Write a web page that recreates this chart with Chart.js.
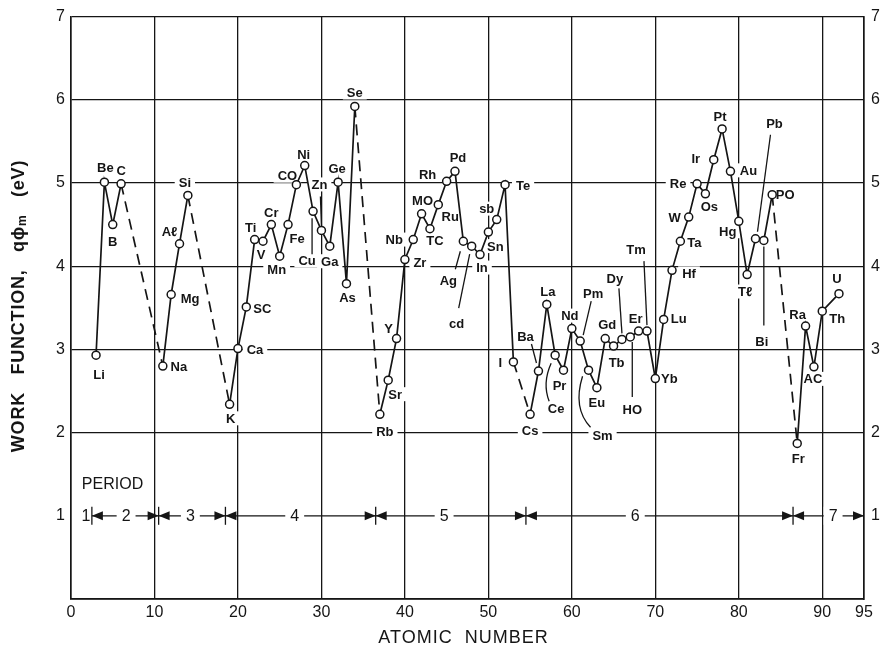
<!DOCTYPE html>
<html>
<head>
<meta charset="utf-8">
<script src="https://cdn.jsdelivr.net/npm/chart.js@4.4.0/dist/chart.umd.min.js"></script>
<style>
  html, body { margin: 0; padding: 0; background: #fff; }
  #wrap { width: 883px; height: 654px; }
</style>
</head>
<body>
<div id="wrap"><canvas id="wf-chart"></canvas></div>
<script>
// element labels as lettered on the figure
const symbols = ['Li','Be','B','C','Na','Mg','Aℓ','Si','K','Ca','SC','Ti','V','Cr','Mn','Fe','CO','Ni','Cu','Zn','Ga','Ge','As','Se',
  'Rb','Sr','Y','Zr','Nb','MO','TC','Ru','Rh','Pd','Ag','cd','In','Sn','sb','Te','I',
  'Cs','Ba','La','Ce','Pr','Nd','Pm','Sm','Eu','Gd','Tb','Dy','HO','Er','Tm','Yb','Lu','Hf','Ta','W','Re','Os','Ir','Pt','Au','Hg','Tℓ','Pb','Bi','PO',
  'Fr','Ra','AC','Th','U'];
const atomicNumbers = [3,4,5,6,11,12,13,14,19,20,21,22,23,24,25,26,27,28,29,30,31,32,33,34,
  37,38,39,40,41,42,43,44,45,46,47,48,49,50,51,52,53,
  55,56,57,58,59,60,61,62,63,64,65,66,67,68,69,70,71,72,73,74,75,76,77,78,79,80,81,82,83,84,
  87,88,89,90,92];
const workFunctions = [2.93,5.01,4.50,4.99,2.80,3.66,4.27,4.85,2.34,3.01,3.51,4.32,4.30,4.50,4.12,4.50,4.98,5.21,4.66,4.43,4.24,5.01,3.79,5.92,
  2.22,2.63,3.13,4.08,4.32,4.63,4.45,4.74,5.02,5.14,4.30,4.24,4.14,4.41,4.56,4.98,2.85,
  2.22,2.74,3.54,2.93,2.75,3.25,3.10,2.75,2.54,3.13,3.04,3.12,3.15,3.22,3.22,2.65,3.36,3.95,4.30,4.59,4.99,4.87,5.28,5.65,5.14,4.54,3.90,4.33,4.31,4.86,
  1.87,3.28,2.79,3.46,3.67];
// dashed connection after these (noble gases / halogens skipped)
const dashedAfter = ['C','Si','Se','I','PO'];

const xTicks = [0,10,20,30,40,50,60,70,80,90,95];
const yTicks = [0,1,2,3,4,5,6,7];

const periodNames = ['1','2','3','4','5','6','7'];
const periodBounds = [2.5,10.5,18.5,36.5,54.5,86.5,95];
const periodLabelAt = [1.8,6.6,14.3,26.8,44.7,67.6,91.3];

// label placement, pixel offset from the point
const labelPlace = {
  Li:[3,19], Be:[1,-15], B:[0,17], C:[0,-13], Na:[16,0], Mg:[19,4], 'Aℓ':[-10,-12], Si:[-3,-13],
  K:[1,14], Ca:[17,1], SC:[16,1], Ti:[-4,-12], V:[-2,13], Cr:[0,-12], Mn:[-3,13], Fe:[9,14],
  CO:[-9,-9], Ni:[-1,-11], Cu:[-6,49], Zn:[-2,-46], Ga:[0,15], Ge:[-1,-14], As:[1,14], Se:[0,-14],
  Rb:[5,17], Sr:[7,14], Y:[-8,-10], Zr:[15,3], Nb:[-19,0], MO:[1,-13], TC:[5,12], Ru:[12,12],
  Rh:[-19,-7], Pd:[3,-14], Ag:[-15,39], cd:[-15,77], In:[2,13], Sn:[7,14], sb:[-10,-11], Te:[18,1], I:[-13,1],
  Cs:[0,16], Ba:[-13,-35], La:[1,-13], Ce:[1,53], Pr:[-4,15], Nd:[-2,-13], Pm:[13,-48], Sm:[14,65],
  Eu:[0,15], Gd:[2,-14], Tb:[3,16], Dy:[-7,-61], HO:[2,73], Er:[-3,-13], Tm:[-11,-82], Yb:[14,0],
  Lu:[15,-1], Hf:[17,3], Ta:[14,1], W:[-14,0], Re:[-19,0], Os:[4,13], Ir:[-18,-1], Pt:[-2,-12],
  Au:[18,-1], Hg:[-11,10], 'Tℓ':[-2,17], Pb:[19,-115], Bi:[-2,101], PO:[13,0],
  Fr:[1,15], Ra:[-8,-12], AC:[-1,12], Th:[15,7], U:[-2,-15]
};
const leaders = {
  Cu:[[-1,7],[-1,43]], Zn:[[-1,-34],[0,-5]], Ag:[[-8,28],[-3,10]], cd:[[-13,62],[-2,8]],
  Ba:[[-7,-27],[-2,-8]], Pm:[[11,-40],[3,-6]], Dy:[[-3,-51],[0,-6]], HO:[[2,5],[2,60]],
  Tm:[[-3,-70],[0,-6]], Pb:[[15,-104],[2,-7]], Bi:[[0,85],[0,6]]
};
const curvedLeaders = {
  Ce:[[-4,8],[-13,28],[-6,46]],
  Sm:[[-6,6],[-16,38],[2,57]]
};

const INK = '#151515';
const FONT = '"Liberation Sans", Arial, sans-serif';

const annotate = {
  id: 'annotate',
  beforeDatasetsDraw(chart) {
    const { ctx, scales: { x, y } } = chart;
    ctx.save();
    ctx.font = 'bold 13px ' + FONT;
    ctx.textAlign = 'center';
    ctx.textBaseline = 'middle';
    const pos = symbols.map((s, i) => [x.getPixelForValue(atomicNumbers[i]), y.getPixelForValue(workFunctions[i])]);

    // white patches behind labels (they break the grid like on the figure)
    ctx.fillStyle = '#fff';
    symbols.forEach((s, i) => {
      const [dx, dy] = labelPlace[s];
      const w = ctx.measureText(s).width;
      ctx.fillRect(pos[i][0] + dx - w / 2 - 4, pos[i][1] + dy - 7, w + 8, 14);
    });
    ctx.fillStyle = INK;
    symbols.forEach((s, i) => {
      const [dx, dy] = labelPlace[s];
      ctx.fillText(s, pos[i][0] + dx, pos[i][1] + dy + 1);
    });

    ctx.strokeStyle = INK;
    ctx.lineWidth = 1.3;
    Object.keys(leaders).forEach(s => {
      const i = symbols.indexOf(s);
      const [a, b] = leaders[s];
      ctx.beginPath();
      ctx.moveTo(pos[i][0] + a[0], pos[i][1] + a[1]);
      ctx.lineTo(pos[i][0] + b[0], pos[i][1] + b[1]);
      ctx.stroke();
    });
    Object.keys(curvedLeaders).forEach(s => {
      const i = symbols.indexOf(s);
      const [a, c, b] = curvedLeaders[s];
      ctx.beginPath();
      ctx.moveTo(pos[i][0] + a[0], pos[i][1] + a[1]);
      ctx.quadraticCurveTo(pos[i][0] + c[0], pos[i][1] + c[1], pos[i][0] + b[0], pos[i][1] + b[1]);
      ctx.stroke();
    });

    // period row
    const yr = y.getPixelForValue(1);
    ctx.font = '16px ' + FONT;
    ctx.textAlign = 'left';
    ctx.fillText('PERIOD', x.getPixelForValue(1.3), y.getPixelForValue(1.38));
    ctx.textAlign = 'center';
    const arrow = (tx, dir) => {
      ctx.beginPath();
      ctx.moveTo(tx, yr);
      ctx.lineTo(tx - dir * 11, yr - 4.5);
      ctx.lineTo(tx - dir * 11, yr + 4.5);
      ctx.closePath();
      ctx.fill();
    };
    periodBounds.slice(0, -1).forEach(b => {
      const px = x.getPixelForValue(b);
      ctx.beginPath();
      ctx.moveTo(px, yr - 9);
      ctx.lineTo(px, yr + 9);
      ctx.stroke();
    });
    ctx.fillStyle = '#fff';
    ctx.fillRect(x.getPixelForValue(periodLabelAt[0]) - 5, yr - 9, 10, 18);
    ctx.fillStyle = INK;
    ctx.fillText(periodNames[0], x.getPixelForValue(periodLabelAt[0]), yr + 1);
    for (let k = 1; k < periodNames.length; k++) {
      const a = x.getPixelForValue(periodBounds[k - 1]);
      const b = x.getPixelForValue(periodBounds[k]);
      const lx = x.getPixelForValue(periodLabelAt[k]);
      const hw = ctx.measureText(periodNames[k]).width / 2 + 5;
      ctx.fillStyle = '#fff';
      ctx.fillRect(lx - hw, yr - 9, hw * 2, 18);
      ctx.fillStyle = INK;
      ctx.beginPath();
      ctx.moveTo(a, yr); ctx.lineTo(lx - hw, yr);
      ctx.moveTo(lx + hw, yr); ctx.lineTo(b, yr);
      ctx.stroke();
      arrow(b, 1);
      arrow(a, -1);
      ctx.fillText(periodNames[k], lx, yr + 1);
    }
    ctx.restore();
  },
  afterDraw(chart) {
    const { ctx, chartArea } = chart;
    ctx.save();
    ctx.fillStyle = INK;
    ctx.textBaseline = 'middle';
    ctx.textAlign = 'center';
    ctx.font = '18px ' + FONT;
    ctx.letterSpacing = '1px';
    ctx.fillText('ATOMIC  NUMBER', (chartArea.left + chartArea.right) / 2 - 4, 638);

    // rotated y title with a subscript m
    ctx.translate(19, 306);
    ctx.rotate(-Math.PI / 2);
    ctx.textAlign = 'left';
    ctx.letterSpacing = '0.8px';
    const parts = [
      ['WORK   FUNCTION,   q\u03D5', 'bold 18px ' + FONT, 0],
      ['m', 'bold 12px ' + FONT, 4],
      ['   (eV)', 'bold 18px ' + FONT, 0]
    ];
    let total = 0;
    parts.forEach(p => { ctx.font = p[1]; total += ctx.measureText(p[0]).width; });
    let cx = -total / 2;
    parts.forEach(p => {
      ctx.font = p[1];
      ctx.fillText(p[0], cx, p[2]);
      cx += ctx.measureText(p[0]).width;
    });
    ctx.restore();
  }
};

const points = atomicNumbers.map((n, i) => ({ x: n, y: workFunctions[i] }));

new Chart(document.getElementById('wf-chart'), {
  type: 'scatter',
  data: {
    datasets: [{
      data: points,
      showLine: true,
      borderColor: INK,
      borderWidth: 1.7,
      pointRadius: 4,
      pointBackgroundColor: '#fff',
      pointBorderColor: INK,
      pointBorderWidth: 1.5,
      segment: {
        borderDash: c => dashedAfter.includes(symbols[c.p0DataIndex]) ? [11, 7] : undefined
      }
    }]
  },
  options: {
    responsive: true,
    maintainAspectRatio: false,
    animation: false,
    devicePixelRatio: 1,
    layout: { padding: { top: 15, left: 0, right: 0, bottom: 0 } },
    plugins: { legend: { display: false }, tooltip: { enabled: false } },
    scales: {
      x: {
        type: 'linear',
        min: 0, max: 95,
        afterBuildTicks: s => { s.ticks = xTicks.map(v => ({ value: v })); },
        afterFit: s => { s.height = 55; },
        grid: { color: INK, lineWidth: 1.3, drawTicks: false },
        border: { display: true, color: INK, width: 1.8 },
        ticks: { color: INK, font: { family: FONT, size: 16 }, padding: 4, maxRotation: 0, autoSkip: false }
      },
      y: {
        type: 'linear', position: 'left',
        min: 0, max: 7,
        afterBuildTicks: s => { s.ticks = yTicks.map(v => ({ value: v })); },
        afterFit: s => { s.width = 71; },
        grid: { color: c => c.tick && c.tick.value === 1 ? 'rgba(0,0,0,0)' : INK, lineWidth: 1.3, drawTicks: false },
        border: { display: true, color: INK, width: 1.6 },
        ticks: { color: INK, font: { family: FONT, size: 16 }, padding: 6, callback: v => v === 0 ? '' : v }
      },
      y2: {
        type: 'linear', position: 'right',
        min: 0, max: 7,
        afterBuildTicks: s => { s.ticks = yTicks.map(v => ({ value: v })); },
        afterFit: s => { s.width = 19; },
        grid: { display: false, drawTicks: false },
        border: { display: true, color: INK, width: 1.6 },
        ticks: { color: INK, font: { family: FONT, size: 16 }, padding: 7, callback: v => v === 0 ? '' : v }
      }
    }
  },
  plugins: [annotate]
});
</script>
</body>
</html>
